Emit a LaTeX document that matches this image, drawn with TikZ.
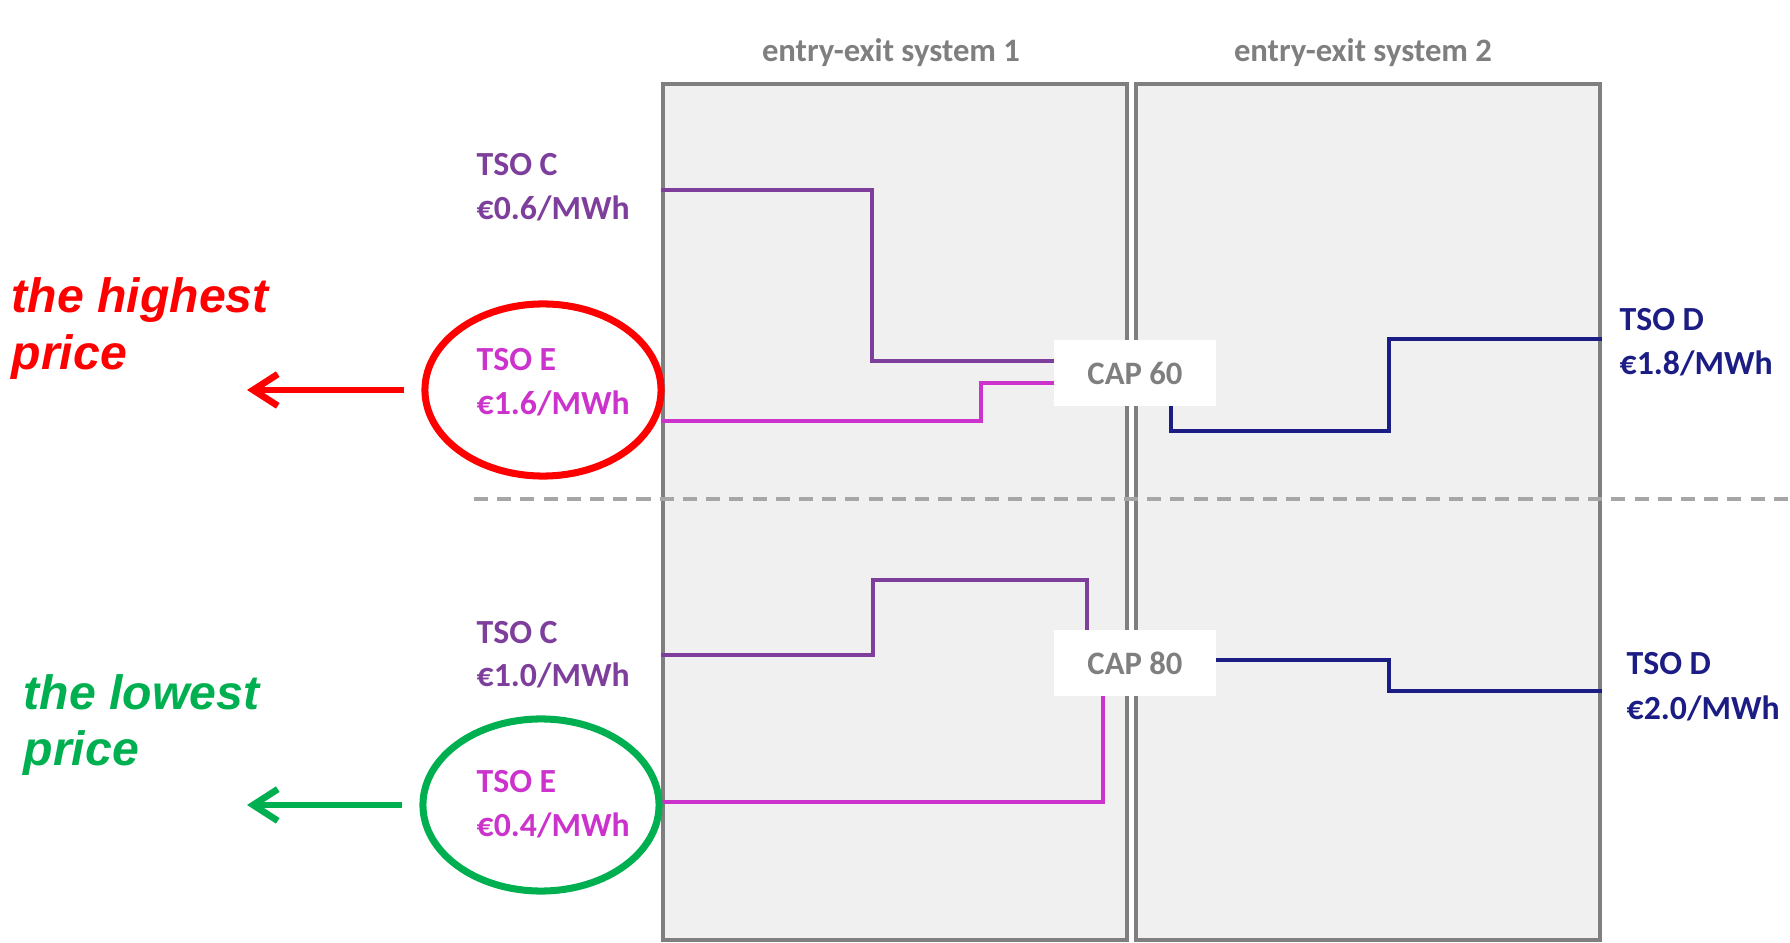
\documentclass[tikz,border=0pt]{standalone}
\usepackage{fontspec}
\setmainfont{Carlito}
\newfontfamily\notefont{Liberation Sans}
\usetikzlibrary{arrows.meta, positioning, shapes.geometric}

\definecolor{tsoC}{HTML}{7E3F9C}
\definecolor{tsoE}{HTML}{CC33CC}
\definecolor{tsoD}{HTML}{1C1C85}
\definecolor{framegray}{HTML}{7F7F7F}
\definecolor{dashgray}{HTML}{A6A6A6}
\definecolor{panel}{HTML}{F0F0F0}
\definecolor{hiRed}{HTML}{FF0000}
\definecolor{loGreen}{HTML}{00B050}

\begin{document}
\begin{tikzpicture}[x=0.01cm, y=-0.01cm,
  panelbox/.style={draw=framegray, fill=panel, line width=1.2pt, minimum width=4.64cm, minimum height=8.56cm, inner sep=0pt},
  systitle/.style={font=\bfseries\fontsize{9.3}{11}\selectfont, text=framegray, anchor=base, inner sep=0pt},
  tso/.style={font=\bfseries\fontsize{9.6}{11.5}\selectfont, anchor=base west, inner sep=0pt},
  capbox/.style={fill=white, text=framegray, font=\bfseries\fontsize{9.3}{11}\selectfont, minimum width=1.61cm, minimum height=0.65cm, inner sep=0pt},
  tariff/.style={line width=0.9pt},
  ring/.style={ellipse, line width=2pt, minimum width=2.36cm, minimum height=1.72cm, inner sep=0pt},
  pointer/.style={line width=1.9pt, shorten <=5pt, -{Straight Barb[length=7pt, width=9pt]}},
  note/.style={font=\notefont\bfseries\itshape\fontsize{13.7}{16}\selectfont, anchor=base west, inner sep=0pt}]
  \useasboundingbox (0,0) rectangle (1790,943);
  % entry-exit systems
  \node[panelbox] (box1) at (895,512) {};
  \node[panelbox] (box2) at (1368,512) {};
  \node[systitle] (sys1) at (891,62) {entry-exit system 1};
  \node[systitle] (sys2) at (1363,62) {entry-exit system 2};
  \coordinate (sepL) at (474,499);
  \coordinate (sepR) at (1790,499);
  \draw[dashgray, line width=0.9pt, dash pattern=on 4pt off 2.6pt] (sepL) -- (sepR);
  % interconnection points
  \node[capbox] (cap60) at (1135,373) {CAP 60};
  \node[capbox] (cap80) at (1135,663) {CAP 80};
  % TSO labels
  \node[tso, text=tsoC] (cUpName) at (476,176) {TSO C};
  \node[tso, text=tsoC] (cUpPrice) at (476,220) {€0.6/MWh};
  \node[tso, text=tsoE] (eUpName) at (476,371) {TSO E};
  \node[tso, text=tsoE] (eUpPrice) at (476,415) {€1.6/MWh};
  \node[tso, text=tsoD] (dUpName) at (1619,331) {TSO D};
  \node[tso, text=tsoD] (dUpPrice) at (1619,375) {€1.8/MWh};
  \node[tso, text=tsoC] (cLoName) at (476,643) {TSO C};
  \node[tso, text=tsoC] (cLoPrice) at (476,687) {€1.0/MWh};
  \node[tso, text=tsoE] (eLoName) at (476,793) {TSO E};
  \node[tso, text=tsoE] (eLoPrice) at (476,837) {€0.4/MWh};
  \node[tso, text=tsoD] (dLoName) at (1626,675) {TSO D};
  \node[tso, text=tsoD] (dLoPrice) at (1626,719) {€2.0/MWh};
  % tariff steps, upper case
  \coordinate (cU1) at (872,190);
  \coordinate (cU2) at (872,361);
  \coordinate (eU1) at (981,421);
  \coordinate (eU2) at (981,383);
  \coordinate (dU1) at (1171,431);
  \coordinate (dU2) at (1389,431);
  \coordinate (dU3) at (1389,339);
  \draw[tariff, tsoC] (box1.west |- cU1) -- (cU1) -- (cU2) -- (cap60.west |- cU2);
  \draw[tariff, tsoE] (box1.west |- eU1) -- (eU1) -- (eU2) -- (cap60.west |- eU2);
  \draw[tariff, tsoD] (cap60.south -| dU1) -- (dU1) -- (dU2) -- (dU3) -- (box2.east |- dU3);
  % tariff steps, lower case
  \coordinate (cL1) at (873,655);
  \coordinate (cL2) at (873,580);
  \coordinate (cL3) at (1087,580);
  \coordinate (eL1) at (1103,802);
  \coordinate (dL1) at (1389,660);
  \coordinate (dL2) at (1389,691);
  \draw[tariff, tsoC] (box1.west |- cL1) -- (cL1) -- (cL2) -- (cL3) -- (cap80.north -| cL3);
  \draw[tariff, tsoE] (box1.west |- eL1) -- (eL1) -- (cap80.south -| eL1);
  \draw[tariff, tsoD] (cap80.east |- dL1) -- (dL1) -- (dL2) -- (box2.east |- dL2);
  % highest / lowest
  \node[ring, draw=hiRed] (hiRing) at (543,390) {};
  \node[ring, draw=loGreen] (loRing) at (541,805) {};
  \coordinate (hiTip) at (247,390);
  \coordinate (loTip) at (247,805);
  \draw[pointer, hiRed] (hiRing.west) -- (hiTip);
  \draw[pointer, loGreen] (loRing.west) -- (loTip);
  \node[note, text=hiRed] (hiA) at (11,313) {the highest};
  \node[note, text=hiRed] (hiB) at (11,370) {price};
  \node[note, text=loGreen] (loA) at (23,710) {the lowest};
  \node[note, text=loGreen] (loB) at (23,765) {price};
\end{tikzpicture}
\end{document}
